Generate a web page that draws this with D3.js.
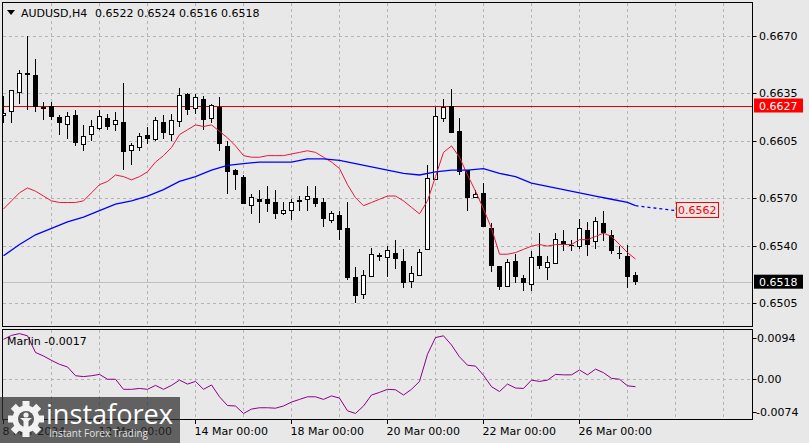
<!DOCTYPE html>
<html>
<head>
<meta charset="utf-8">
<script src="https://cdn.jsdelivr.net/npm/d3@7"></script>
<style>
  body { margin: 0; background: #e8e8e8; }
  svg { display: block; font-family: "DejaVu Sans", sans-serif; font-size: 11px; }
</style>
</head>
<body>
<svg id="chart" width="809" height="443"></svg>
<script>
const symbol = "AUDUSD,H4";
const lastOHLC = ["0.6522", "0.6524", "0.6516", "0.6518"];

const open = [0.6621,0.6623,0.6635,0.6646,0.6646,0.6626,0.6627,0.6620,0.6615,0.6621,
  0.6603,0.6609,0.6613,0.6619,0.6615,0.6617,0.6599,0.6601,0.6609,0.6606,
  0.6617,0.6609,0.6617,0.6634,0.6625,0.6631,0.6619,0.6626,0.6602,0.6587,
  0.6583,0.6565,0.6569,0.6569,0.6567,0.6560,0.6562,0.6568,0.6569,0.6570,
  0.6567,0.6556,0.6559,0.6551,0.6521,0.6510,0.6521,0.6534,0.6533,0.6536,
  0.6531,0.6518,0.6522,0.6538,0.6581,0.6619,0.6627,0.6611,0.6587,0.6570,
  0.6573,0.6551,0.6528,0.6515,0.6531,0.6520,0.6516,0.6534,0.6527,0.6529,
  0.6543,0.6541,0.6540,0.6550,0.6543,0.6554,0.6547,0.6536,0.6534,0.6522];
const high = [0.6633,0.6636,0.6649,0.6670,0.6656,0.6629,0.6629,0.6621,0.6623,0.6624,
  0.6615,0.6618,0.6624,0.6622,0.6623,0.6641,0.6604,0.6610,0.6614,0.6620,
  0.6621,0.6622,0.6638,0.6635,0.6634,0.6633,0.6628,0.6632,0.6605,0.6588,
  0.6584,0.6572,0.6575,0.6577,0.6575,0.6567,0.6569,0.6571,0.6577,0.6577,
  0.6570,0.6562,0.6562,0.6567,0.6527,0.6525,0.6539,0.6536,0.6540,0.6544,
  0.6538,0.6528,0.6538,0.6590,0.6626,0.6631,0.6637,0.6619,0.6587,0.6575,
  0.6579,0.6554,0.6528,0.6532,0.6535,0.6522,0.6537,0.6548,0.6534,0.6548,
  0.6550,0.6544,0.6557,0.6555,0.6558,0.6562,0.6550,0.6540,0.6541,0.6524];
const low = [0.6616,0.6616,0.6628,0.6624,0.6623,0.6618,0.6618,0.6609,0.6606,0.6602,
  0.6599,0.6605,0.6612,0.6612,0.6611,0.6587,0.6590,0.6599,0.6603,0.6605,
  0.6606,0.6605,0.6614,0.6621,0.6622,0.6612,0.6616,0.6599,0.6572,0.6575,
  0.6566,0.6560,0.6554,0.6561,0.6557,0.6559,0.6556,0.6562,0.6562,0.6564,
  0.6552,0.6554,0.6544,0.6519,0.6505,0.6507,0.6521,0.6531,0.6521,0.6526,
  0.6514,0.6514,0.6522,0.6538,0.6581,0.6617,0.6610,0.6584,0.6562,0.6570,
  0.6552,0.6524,0.6513,0.6515,0.6517,0.6512,0.6512,0.6526,0.6519,0.6529,
  0.6537,0.6537,0.6538,0.6534,0.6538,0.6543,0.6535,0.6532,0.6514,0.6516];
const close = [0.6622,0.6636,0.6647,0.6647,0.6626,0.6625,0.6620,0.6616,0.6620,0.6604,
  0.6608,0.6614,0.6620,0.6614,0.6618,0.6598,0.6602,0.6608,0.6606,0.6618,
  0.6610,0.6618,0.6633,0.6624,0.6632,0.6618,0.6627,0.6603,0.6586,0.6584,
  0.6566,0.6570,0.6567,0.6566,0.6560,0.6562,0.6567,0.6568,0.6571,0.6566,
  0.6557,0.6560,0.6550,0.6520,0.6509,0.6522,0.6535,0.6534,0.6537,0.6532,
  0.6517,0.6523,0.6536,0.6582,0.6620,0.6626,0.6610,0.6586,0.6570,0.6572,
  0.6552,0.6528,0.6515,0.6530,0.6521,0.6517,0.6533,0.6528,0.6530,0.6544,
  0.6541,0.6540,0.6551,0.6541,0.6555,0.6548,0.6537,0.6535,0.6521,0.6518];

const redMA = [0.6563,0.6568,0.6573,0.6576,0.6574,0.6571,0.6568,0.6567,0.6567,0.6567,
  0.6568,0.6573,0.6578,0.6580,0.6584,0.6583,0.6581,0.6583,0.6586,0.6592,
  0.6596,0.6601,0.6609,0.6612,0.6615,0.6614,0.6615,0.6611,0.6607,0.6602,
  0.6596,0.6595,0.6595,0.6596,0.6596,0.6596,0.6597,0.6598,0.6599,0.6598,
  0.6595,0.6592,0.6588,0.6578,0.6570,0.6565,0.6567,0.6569,0.6571,0.6571,
  0.6568,0.6564,0.6560,0.6568,0.6583,0.6598,0.6602,0.6595,0.6584,0.6574,
  0.6563,0.6551,0.6535,0.6535,0.6536,0.6538,0.6540,0.6541,0.6540,0.6541,
  0.6541,0.6541,0.6544,0.6544,0.6546,0.6548,0.6546,0.6541,0.6536,0.6532];

const blueBars = [0,2,4,6,8,10,12,14,16,18,20,22,24,26,28,30,32,34,36,38,
  40,42,44,46,48,50,52,54,56,58,60,62,64,66,68,70,72,74,76,78,79];
const blueMA = [0.6534,0.6541,0.6547,0.6551,0.6555,0.6558,0.6562,0.6566,0.6568,0.6571,
  0.6575,0.6580,0.6583,0.6587,0.6590,0.6591,0.6592,0.6592,0.6592,0.6594,
  0.6594,0.6593,0.6591,0.6589,0.6587,0.6585,0.6584,0.6586,0.6587,0.6587,
  0.6588,0.6585,0.6583,0.6579,0.6577,0.6575,0.6573,0.6571,0.6569,0.6567,0.6565];
const blueProjBars = [79, 84];
const blueProj = [0.6565, 0.6562];

const marlin = [0.0091,0.0100,0.0104,0.0099,0.0061,0.0053,0.0043,0.0034,0.0028,0.0008,
  0.0006,0.0008,0.0011,0.0000,0.0000,-0.0023,-0.0023,-0.0021,-0.0023,-0.0014,
  -0.0023,-0.0014,-0.0002,-0.0011,-0.0005,-0.0023,-0.0013,-0.0040,-0.0060,-0.0061,
  -0.0078,-0.0068,-0.0065,-0.0065,-0.0066,-0.0061,-0.0052,-0.0046,-0.0040,-0.0040,
  -0.0046,-0.0038,-0.0043,-0.0072,-0.0078,-0.0061,-0.0036,-0.0030,-0.0023,-0.0024,
  -0.0036,-0.0023,-0.0005,0.0057,0.0095,0.0099,0.0078,0.0051,0.0032,0.0030,
  0.0009,-0.0017,-0.0028,-0.0011,-0.0020,-0.0021,-0.0002,-0.0005,-0.0002,0.0011,
  0.0010,0.0010,0.0021,0.0010,0.0023,0.0015,0.0002,0.0000,-0.0015,-0.0017];

const priceTicks = [0.6670, 0.6635, 0.6605, 0.6570, 0.6540, 0.6505];
const marlinTicks = [0.0094, 0, -0.0074];
const marlinTickLabels = ["0.0094", "0.00", "-0.0074"];
const dateTicks = [0, 12, 24, 36, 48, 60, 72];
const dateLabels = ["8 Mar 2024", "12 Mar 00:00", "14 Mar 00:00", "18 Mar 00:00",
  "20 Mar 00:00", "22 Mar 00:00", "26 Mar 00:00"];
const resistance = 0.6627;
const bid = 0.6518;
const maLabel = 0.6562;

const svg = d3.select("#chart");
const main = { left: 2.5, right: 752.5, top: 2.5, bottom: 326.5 };
const sub = { left: 2.5, right: 752.5, top: 329.5, bottom: 419.5 };

const x = d3.scaleLinear().domain([0, 90]).range([3.5, 723.5]);
const y = d3.scaleLinear().domain([0.6505, 0.6670]).range([302.7, 36]);
const ym = d3.scaleLinear().domain([-0.0074, 0.0094]).range([411.7, 338]);

const defs = svg.append("defs");
defs.append("clipPath").attr("id", "clipMain").append("rect")
  .attr("x", main.left + 0.5).attr("y", main.top + 0.5)
  .attr("width", main.right - main.left - 1).attr("height", main.bottom - main.top - 1);
defs.append("clipPath").attr("id", "clipSub").append("rect")
  .attr("x", sub.left + 0.5).attr("y", sub.top + 0.5)
  .attr("width", sub.right - sub.left - 1).attr("height", sub.bottom - sub.top - 1);

const gridX = d3.range(6, 91, 6);
const grid = svg.append("g").attr("stroke", "#b4b4b4").attr("stroke-dasharray", "3,3")
  .attr("shape-rendering", "crispEdges");
grid.selectAll(".vx").data(gridX).enter().append("line")
  .attr("x1", (d) => x(d)).attr("x2", (d) => x(d))
  .attr("y1", main.top).attr("y2", main.bottom);
grid.selectAll(".vs").data(gridX).enter().append("line")
  .attr("x1", (d) => x(d)).attr("x2", (d) => x(d))
  .attr("y1", sub.top).attr("y2", sub.bottom);
grid.selectAll(".hy").data(priceTicks).enter().append("line")
  .attr("x1", main.left).attr("x2", main.right)
  .attr("y1", (d) => Math.round(y(d)) + 0.5).attr("y2", (d) => Math.round(y(d)) + 0.5);
grid.append("line")
  .attr("x1", sub.left).attr("x2", sub.right)
  .attr("y1", Math.round(ym(0)) + 0.5).attr("y2", Math.round(ym(0)) + 0.5);

const g = svg.append("g").attr("clip-path", "url(#clipMain)");

g.append("line").attr("x1", main.left).attr("x2", main.right)
  .attr("y1", Math.round(y(bid)) + 0.5).attr("y2", Math.round(y(bid)) + 0.5)
  .attr("stroke", "#c0c0c0");
g.append("line").attr("x1", main.left).attr("x2", main.right)
  .attr("y1", Math.round(y(resistance)) + 0.5).attr("y2", Math.round(y(resistance)) + 0.5)
  .attr("stroke", "#e00000");

const bars = d3.range(open.length);
const candles = g.append("g").attr("shape-rendering", "crispEdges");
candles.selectAll(".wick").data(bars).enter().append("line")
  .attr("x1", (i) => x(i)).attr("x2", (i) => x(i))
  .attr("y1", (i) => y(high[i])).attr("y2", (i) => y(low[i]))
  .attr("stroke", "#000");
candles.selectAll(".body").data(bars).enter().append("rect")
  .attr("x", (i) => (close[i] >= open[i] ? x(i) - 2 : x(i) - 2.5))
  .attr("width", (i) => (close[i] >= open[i] ? 4 : 5))
  .attr("y", (i) => y(Math.max(open[i], close[i])))
  .attr("height", (i) => Math.max(1, Math.abs(y(open[i]) - y(close[i]))))
  .attr("fill", (i) => (close[i] >= open[i] ? "#fff" : "#000"))
  .attr("stroke", (i) => (close[i] >= open[i] ? "#000" : "none"));

const line = d3.line().x((d) => x(d[0])).y((d) => y(d[1]));
g.append("path").datum(redMA.map((v, i) => [i, v]))
  .attr("d", line).attr("fill", "none").attr("stroke", "#e8173c").attr("stroke-width", 1);
g.append("path").datum(blueBars.map((b, i) => [b, blueMA[i]]))
  .attr("d", line).attr("fill", "none").attr("stroke", "#0000ff").attr("stroke-width", 1.3);
g.append("path").datum(blueProjBars.map((b, i) => [b, blueProj[i]]))
  .attr("d", line).attr("fill", "none").attr("stroke", "#0000ff")
  .attr("stroke-width", 1.3).attr("stroke-dasharray", "3,3");

svg.append("rect").attr("x", 676.5).attr("y", 202.5).attr("width", 42).attr("height", 15)
  .attr("fill", "#e8e8e8").attr("stroke", "#ff0000");
svg.append("text").attr("x", 678).attr("y", 214).attr("fill", "#ff0000")
  .text(maLabel.toFixed(4));

const s = svg.append("g").attr("clip-path", "url(#clipSub)");
s.append("path").datum(marlin.map((v, i) => [i, v]))
  .attr("d", d3.line().x((d) => x(d[0])).y((d) => ym(d[1])))
  .attr("fill", "none").attr("stroke", "#8b008b").attr("stroke-width", 1);

const frames = svg.append("g").attr("fill", "none").attr("stroke", "#000")
  .attr("shape-rendering", "crispEdges");
[main, sub].forEach((p) => {
  frames.append("rect").attr("x", p.left).attr("y", p.top)
    .attr("width", p.right - p.left).attr("height", p.bottom - p.top);
});

const axis = svg.append("g");
axis.selectAll(".pt").data(priceTicks).enter().append("line")
  .attr("x1", main.right).attr("x2", main.right + 4)
  .attr("y1", (d) => Math.round(y(d)) + 0.5).attr("y2", (d) => Math.round(y(d)) + 0.5)
  .attr("stroke", "#000");
axis.selectAll(".pl").data(priceTicks).enter().append("text")
  .attr("x", 759).attr("y", (d) => y(d) + 4).attr("fill", "#000")
  .text((d) => d.toFixed(4));

axis.selectAll(".mt").data(marlinTicks).enter().append("line")
  .attr("x1", sub.right).attr("x2", sub.right + 4)
  .attr("y1", (d) => Math.round(ym(d)) + 0.5).attr("y2", (d) => Math.round(ym(d)) + 0.5)
  .attr("stroke", "#000");
axis.selectAll(".ml").data(marlinTicks).enter().append("text")
  .attr("x", (d, i) => (i === 2 ? 756 : 757)).attr("y", (d) => ym(d) + 4).attr("fill", "#000")
  .text((d, i) => marlinTickLabels[i]);

axis.append("rect").attr("x", 754).attr("y", y(resistance) - 7).attr("width", 49).attr("height", 14)
  .attr("fill", "#ff0000");
axis.append("text").attr("x", 759).attr("y", y(resistance) + 4).attr("fill", "#fff")
  .text(resistance.toFixed(4));
axis.append("rect").attr("x", 754).attr("y", y(bid) - 7).attr("width", 49).attr("height", 14)
  .attr("fill", "#000");
axis.append("text").attr("x", 759).attr("y", y(bid) + 4).attr("fill", "#fff")
  .text(bid.toFixed(4));

axis.selectAll(".dt").data(dateTicks).enter().append("line")
  .attr("x1", (d) => x(d)).attr("x2", (d) => x(d))
  .attr("y1", sub.bottom).attr("y2", sub.bottom + 4).attr("stroke", "#000")
  .attr("shape-rendering", "crispEdges");
axis.selectAll(".dl").data(dateTicks).enter().append("text")
  .attr("x", (d) => x(d) - 1).attr("y", 435).attr("fill", "#000")
  .text((d, i) => dateLabels[i]);

const head = svg.append("g");
head.append("path").attr("d", "M7,10 L15,10 L11,15 Z").attr("fill", "#000");
head.append("text").attr("x", 21).attr("y", 17).attr("fill", "#000").text(symbol);
head.append("text").attr("x", 95).attr("y", 17).attr("fill", "#000").text(lastOHLC.join(" "));
svg.append("text").attr("x", 7).attr("y", 345).attr("fill", "#000")
  .text("Marlin " + marlin[marlin.length - 1].toFixed(4));

// watermark
const wm = svg.append("g");
wm.append("rect").attr("x", 0).attr("y", 397).attr("width", 180).attr("height", 46)
  .attr("fill", "rgba(45,45,45,0.72)");
const gear = wm.append("g").attr("transform", "translate(26,419)").attr("fill", "#f2f2f2");
d3.range(8).forEach((k) => {
  gear.append("rect").attr("x", -3.5).attr("y", -18).attr("width", 7).attr("height", 7)
    .attr("transform", `rotate(${k * 45})`);
});
gear.append("circle").attr("r", 13.5);
gear.append("circle").attr("r", 8).attr("fill", "#5a5a5a");
gear.append("circle").attr("cy", -4).attr("r", 2.6);
gear.append("path").attr("d", "M-6,-1 L6,-1 L2.5,2 L2.5,10 L-2.5,10 L-2.5,2 Z");
wm.append("text").attr("x", 46).attr("y", 424).attr("fill", "#fff")
  .attr("font-family", "'Open Sans', sans-serif").attr("font-size", 27)
  .attr("textLength", 127).attr("lengthAdjust", "spacingAndGlyphs").text("instaforex");
wm.append("text").attr("x", 49).attr("y", 437).attr("fill", "#e0e0e0")
  .attr("font-family", "'Open Sans', sans-serif").attr("font-size", 10.5)
  .attr("textLength", 99).attr("lengthAdjust", "spacingAndGlyphs").text("Instant Forex Trading");
</script>
</body>
</html>
